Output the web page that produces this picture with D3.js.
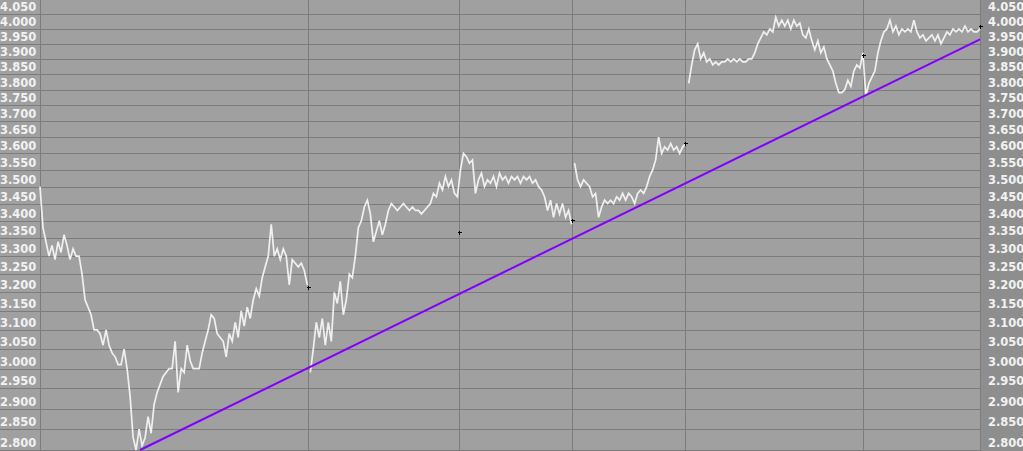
<!DOCTYPE html>
<html>
<head>
<meta charset="utf-8">
<script src="https://cdn.jsdelivr.net/npm/d3@7"></script>
<style>
  html, body { margin: 0; padding: 0; background: #a0a0a0; overflow: hidden; }
  svg { display: block; }
</style>
</head>
<body>
<div id="chart"></div>
<script>
// ---- data ----
// price sessions (consecutive bars; gaps between sessions are not joined)
const sessionA = [3.50,3.38,3.34,3.30,3.33,3.29,3.34,3.31,3.36,3.33,3.29,3.32,3.30,3.30,3.25,3.18,3.16,3.14,3.10,3.10,
  3.09,3.06,3.10,3.06,3.04,3.03,3.01,3.01,3.05,3.00,2.93,2.83,2.80,2.85,2.81,2.83,2.88,2.84,2.91,2.94,
  2.96,2.98,2.99,3.00,3.00,3.07,2.94,3.00,2.99,3.06,3.02,3.00,3.00,3.00,3.04,3.07,3.10,3.14,3.13,3.09,
  3.08,3.07,3.03,3.09,3.07,3.12,3.08,3.15,3.11,3.16,3.13,3.18,3.21,3.19,3.24,3.27,3.30,3.39,3.30,3.32,
  3.29,3.32,3.30,3.22,3.29,3.28,3.27,3.28,3.26,3.22];
const sessionB = [2.99,3.05,3.12,3.08,3.13,3.06,3.12,3.07,3.20,3.17,3.23,3.14,3.18,3.25,3.24,3.30,3.38,3.40,3.44,3.46,
  3.42,3.34,3.37,3.40,3.36,3.39,3.43,3.45,3.44,3.43,3.44,3.45,3.44,3.43,3.44,3.43,3.43,3.42,3.43,3.44,
  3.45,3.48,3.47,3.51,3.49,3.53,3.50,3.52,3.48,3.47,3.55,3.60,3.59,3.57,3.58,3.48,3.52,3.54,3.50,3.52,
  3.51,3.53,3.50,3.54,3.52,3.53,3.51,3.53,3.52,3.53,3.51,3.53,3.52,3.53,3.51,3.52,3.50,3.49,3.47,3.43,
  3.46,3.41,3.45,3.42,3.45,3.41,3.43,3.39];
const sessionC = [3.57,3.52,3.50,3.52,3.51,3.50,3.47,3.48,3.41,3.44,3.46,3.45,3.46,3.45,3.47,3.46,3.48,3.46,3.48,3.47,
  3.45,3.48,3.49,3.48,3.50,3.53,3.55,3.58,3.65,3.60,3.62,3.61,3.63,3.61,3.62,3.60,3.62,3.63];
const sessionD = [3.82,3.88,3.93,3.95,3.90,3.92,3.89,3.90,3.88,3.89,3.88,3.89,3.89,3.90,3.89,3.90,3.89,3.90,3.89,3.89,
  3.90,3.90,3.92,3.95,3.97,3.99,3.98,4.00,3.99,4.04,4.01,4.03,4.01,4.03,4.00,4.03,4.01,4.02,3.98,3.97,
  4.00,3.96,3.93,3.96,3.92,3.94,3.90,3.88,3.86,3.82,3.79,3.79,3.80,3.83,3.81,3.86,3.88,3.87,3.92,3.78,
  3.82,3.84,3.86,3.92,3.96,3.99,4.00,4.03,3.99,4.01,3.98,4.00,3.99,4.00,3.99,4.03,3.99,3.97,3.98,3.96,
  3.97,3.98,3.96,3.98,3.95,3.97,3.99,3.98,4.00,3.99,4.00,3.99,4.01,3.99,4.00,3.99,3.99,4.00];
const sessions = [sessionA, sessionB, sessionC, sessionD];

// period separators (bar position) and the marked closing price at each
const markerPos  = [89.24, 139.52, 177.15, 214.77, 274.04, 313];
const markerVals = [3.215, 3.368, 3.402, 3.631, 3.913, 4.010];

// trend line anchors
const trendPos  = [33.3, 313];
const trendVals = [2.80, 3.965];

// y tick labels
const yTicks = d3.range(0, 26).map(k => +(2.80 + k * 0.05).toFixed(2));

// ---- layout ----
const W = 1023, H = 451;
const plotLeft = 40, plotRight = 980;
const totalBars = sessions.reduce((s, a) => s + a.length, 0);

const x = d3.scaleLinear().domain([0, totalBars - 1]).range([plotLeft, plotRight]);
const y = d3.scaleLog().domain([2.80, 4.0994]).range([450, 0]);

const svg = d3.select("#chart").append("svg").attr("width", W).attr("height", H);

svg.append("rect").attr("width", W).attr("height", H).attr("fill", "#a0a0a0");

// right axis panel
svg.append("rect").attr("x", plotRight).attr("y", 0).attr("width", W - plotRight).attr("height", H)
  .attr("fill", "#8e8e8e");

// horizontal grid lines
svg.append("g").selectAll("line").data(yTicks).join("line")
  .attr("x1", 0).attr("x2", plotRight)
  .attr("y1", d => Math.round(y(d)) + 0.5).attr("y2", d => Math.round(y(d)) + 0.5)
  .attr("stroke", "#7c7c7c").attr("stroke-width", 1).attr("shape-rendering", "crispEdges");

// vertical lines: left axis boundary + separators
const vx = [plotLeft].concat(markerPos.map(p => x(p)));
svg.append("g").selectAll("line").data(vx).join("line")
  .attr("x1", d => Math.round(d) + 0.5).attr("x2", d => Math.round(d) + 0.5)
  .attr("y1", 0).attr("y2", H)
  .attr("stroke", "#7c7c7c").attr("stroke-width", 1).attr("shape-rendering", "crispEdges");

// axis labels
const labelStyle = sel => sel
  .attr("font-family", "DejaVu Sans, sans-serif").attr("font-weight", "bold")
  .attr("font-size", "11.5px").attr("fill", "#f2f2f2");

svg.append("g").selectAll("text").data(yTicks).join("text")
  .attr("x", 0).attr("y", d => Math.round(y(d)) - 3)
  .text(d => d.toFixed(3)).call(labelStyle);

svg.append("g").selectAll("text").data(yTicks).join("text")
  .attr("x", 988).attr("y", d => Math.round(y(d)) - 3)
  .text(d => d.toFixed(3)).call(labelStyle);

// price line per session
const line = d3.line().x(d => x(d.i)).y(d => y(d.v));
let offset = 0;
sessions.forEach(s => {
  const pts = s.map((v, k) => ({ i: offset + k, v }));
  offset += s.length;
  svg.append("path").datum(pts).attr("d", line)
    .attr("fill", "none").attr("stroke", "#f0f0f0").attr("stroke-width", 1.7)
    .attr("stroke-linejoin", "miter");
});

// trend line
const trendPts = trendPos.map((p, k) => ({ i: p, v: trendVals[k] }));
svg.append("path").datum(trendPts).attr("d", line)
  .attr("fill", "none").attr("stroke", "#8000ff").attr("stroke-width", 2);

// markers
svg.append("g").selectAll("path").data(markerPos.map((p, k) => ({ i: p, v: markerVals[k] }))).join("path")
  .attr("d", d => {
    const cx = Math.round(x(d.i)) + 0.5, cy = Math.round(y(d.v)) + 0.5;
    return `M${cx - 2},${cy}H${cx + 2}M${cx},${cy - 2}V${cy + 2}`;
  })
  .attr("stroke", "#000").attr("stroke-width", 1.2).attr("shape-rendering", "crispEdges");
</script>
</body>
</html>
